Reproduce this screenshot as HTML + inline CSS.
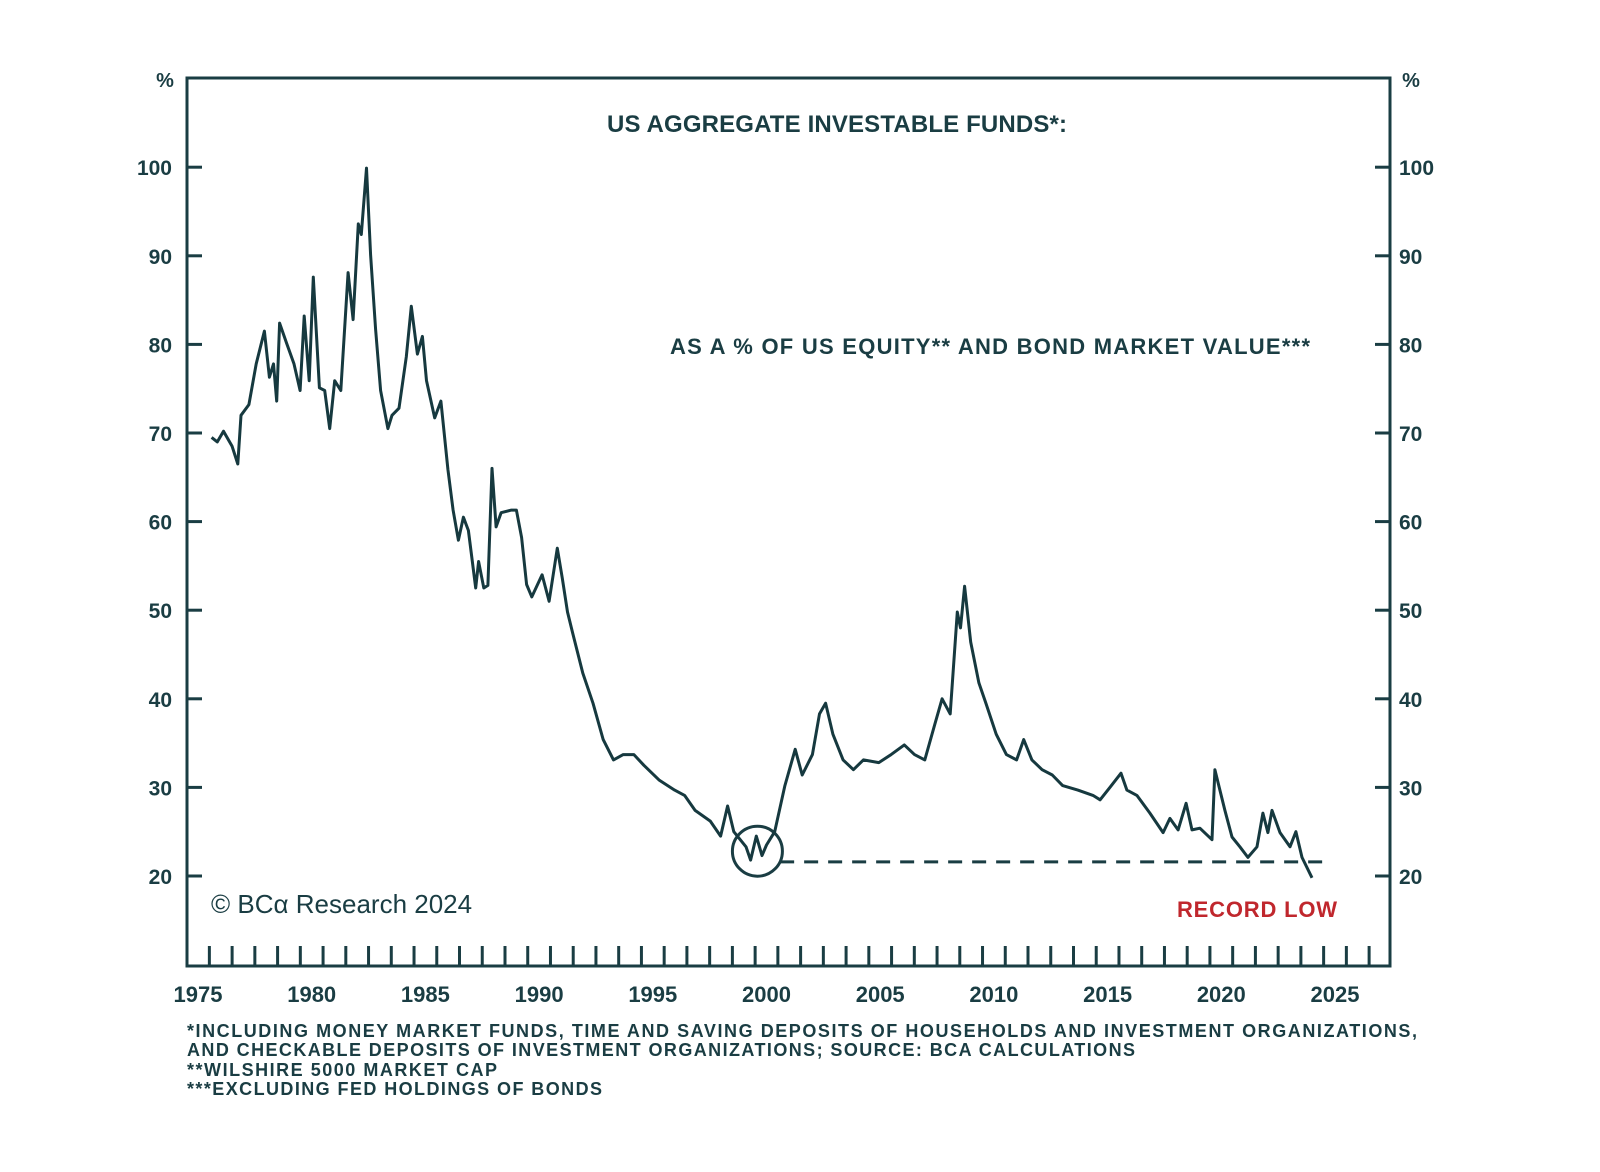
<!DOCTYPE html>
<html><head><meta charset="utf-8"><style>
html,body{margin:0;padding:0;background:#fff;}
svg{display:block;}
text{font-family:"Liberation Sans",sans-serif;fill:#1a3d43;}
</style></head><body>
<svg id="chart" width="1600" height="1172" viewBox="0 0 1600 1172">
<rect x="187" y="78" width="1203" height="888" fill="none" stroke="#1a3d43" stroke-width="3"/>
<g id="yticks"></g>
<g id="xticks"></g>
<text x="165" y="87" font-size="20" font-weight="bold" text-anchor="middle">%</text>
<text x="1411" y="87" font-size="20" font-weight="bold" text-anchor="middle">%</text>
<text x="607" y="132" font-size="24" font-weight="bold" textLength="460">US AGGREGATE INVESTABLE FUNDS*:</text>
<text x="670" y="354" font-size="22" font-weight="bold" textLength="640">AS A % OF US EQUITY** AND BOND MARKET VALUE***</text>
<text x="211" y="913" font-size="26" font-family="Liberation Serif, serif">© BCα Research 2024</text>
<text x="1177" y="917" font-size="22" font-weight="bold" style="fill:#c0272d" textLength="160">RECORD LOW</text>
<line id="recline" stroke="#1a3d43" stroke-width="3" stroke-dasharray="14,10"/>
<circle id="reccircle" r="25" fill="none" stroke="#1a3d43" stroke-width="3"/>
<path id="series" fill="none" stroke="#16393f" stroke-width="3" stroke-linejoin="round"/>
<g font-size="18" font-weight="bold">
<text x="187" y="1037" textLength="1230">*INCLUDING MONEY MARKET FUNDS, TIME AND SAVING DEPOSITS OF HOUSEHOLDS AND INVESTMENT ORGANIZATIONS,</text>
<text x="187" y="1056" textLength="948">AND CHECKABLE DEPOSITS OF INVESTMENT ORGANIZATIONS; SOURCE: BCA CALCULATIONS</text>
<text x="187" y="1076" textLength="310">**WILSHIRE 5000 MARKET CAP</text>
<text x="187" y="1095" textLength="415">***EXCLUDING FED HOLDINGS OF BONDS</text>
</g>
</svg>
<script>
const years=[1975.6,1975.85,1976.12,1976.5,1976.75,1976.89,1977.24,1977.56,1977.92,1978.14,1978.32,1978.46,1978.59,1978.9,1979.22,1979.49,1979.67,1979.89,1980.07,1980.34,1980.57,1980.79,1981.01,1981.28,1981.6,1981.82,1982.05,1982.18,1982.41,1982.59,1982.81,1983.03,1983.35,1983.53,1983.84,1984.16,1984.38,1984.65,1984.87,1985.05,1985.41,1985.68,1985.99,1986.22,1986.45,1986.67,1986.89,1987.21,1987.34,1987.57,1987.75,1987.93,1988.11,1988.33,1988.78,1989.0,1989.23,1989.45,1989.68,1990.13,1990.44,1990.8,1991.02,1991.25,1991.47,1991.92,1992.37,1992.82,1993.27,1993.7,1994.17,1994.61,1995.29,1995.96,1996.4,1996.86,1997.53,1997.98,1998.29,1998.56,1999.1,1999.3,1999.55,1999.8,2000.0,2000.36,2000.81,2001.26,2001.57,2002.02,2002.33,2002.6,2002.92,2003.37,2003.82,2004.26,2004.94,2005.48,2006.06,2006.51,2006.96,2007.41,2007.72,2008.08,2008.39,2008.53,2008.71,2008.98,2009.34,2009.65,2010.1,2010.55,2011.0,2011.31,2011.67,2012.12,2012.57,2013.02,2013.69,2014.36,2014.67,2015.1,2015.59,2015.85,2016.29,2016.86,2017.44,2017.74,2018.1,2018.45,2018.71,2019.06,2019.59,2019.72,2019.94,2020.16,2020.47,2020.82,2021.17,2021.57,2021.83,2022.05,2022.23,2022.58,2023.02,2023.28,2023.55,2023.99];
const values=[69.5,69.0,70.2,68.5,66.5,72,73.2,77.8,81.5,76.3,77.8,73.6,82.4,80.1,77.8,74.8,83.2,75.9,87.6,75.1,74.8,70.5,75.9,74.8,88.1,82.8,93.6,92.4,99.9,90.1,81.7,74.8,70.5,72,72.8,78.6,84.3,78.9,80.9,75.9,71.7,73.6,65.9,61.3,57.9,60.5,59,52.5,55.5,52.5,52.8,66,59.4,61,61.3,61.3,58.2,52.9,51.5,54,51,57,53.6,49.8,47.5,42.9,39.5,35.4,33.1,33.7,33.7,32.5,30.8,29.7,29.1,27.4,26.2,24.5,27.9,25,23.3,21.8,24.5,22.3,23.5,25,30.2,34.3,31.4,33.7,38.3,39.5,36,33.1,32,33.1,32.8,33.7,34.8,33.7,33.1,37.2,40,38.3,49.8,48,52.7,46.4,41.8,39.5,36,33.7,33.1,35.4,33.1,32,31.4,30.2,29.7,29.1,28.6,30.0,31.6,29.7,29.1,27.1,24.9,26.5,25.2,28.2,25.2,25.4,24.1,32.0,29.7,27.4,24.4,23.3,22.1,23.3,27.1,24.9,27.4,24.9,23.3,25.0,22.1,19.8];
const yTickVals=[20,30,40,50,60,70,80,90,100];
const xLabelYears=[1975,1980,1985,1990,1995,2000,2005,2010,2015,2020,2025];
const recordLow=[21.6];
const recordLowSpan=[2000.6,2024.7];
const circleAt=[1999.6,22.8];
const NS='http://www.w3.org/2000/svg';
function X(yr){return 198+(yr-1975)*22.74;}
function Y(v){return 876-(v-20)*8.86;}
const yt=document.getElementById('yticks');
yTickVals.forEach(v=>{
  const y=Y(v);
  const l1=document.createElementNS(NS,'line');
  l1.setAttribute('x1',187);l1.setAttribute('x2',202);l1.setAttribute('y1',y);l1.setAttribute('y2',y);
  l1.setAttribute('stroke','#1a3d43');l1.setAttribute('stroke-width','3');
  
  
  yt.appendChild(l1);
  const l2=document.createElementNS(NS,'line');
  l2.setAttribute('x1',1375);l2.setAttribute('x2',1390);l2.setAttribute('y1',y);l2.setAttribute('y2',y);
  l2.setAttribute('stroke','#1a3d43');l2.setAttribute('stroke-width','3');
  
  
  yt.appendChild(l2);
  const t1=document.createElementNS(NS,'text');
  t1.setAttribute('x',172);t1.setAttribute('y',y+8);t1.setAttribute('text-anchor','end');
  t1.setAttribute('font-size','21');t1.setAttribute('font-weight','bold');t1.textContent=v;
  
  
  yt.appendChild(t1);
  const t2=document.createElementNS(NS,'text');
  t2.setAttribute('x',1399);t2.setAttribute('y',y+8);
  t2.setAttribute('font-size','21');t2.setAttribute('font-weight','bold');t2.textContent=v;
  
  
  yt.appendChild(t2);
});
const xt=document.getElementById('xticks');
for(let yr=1975;yr<=2026;yr++){
  const x=X(yr+0.5);
  const l=document.createElementNS(NS,'line');
  l.setAttribute('x1',x);l.setAttribute('x2',x);l.setAttribute('y1',946);l.setAttribute('y2',966);
  l.setAttribute('stroke','#1a3d43');l.setAttribute('stroke-width','3');
  
  
  xt.appendChild(l);
}
xLabelYears.forEach(yr=>{
  const t=document.createElementNS(NS,'text');
  t.setAttribute('x',X(yr));t.setAttribute('y',1002);t.setAttribute('text-anchor','middle');
  t.setAttribute('font-size','22');t.setAttribute('font-weight','bold');t.textContent=yr;
  
  
  xt.appendChild(t);
});
let d='';
years.forEach((yr,i)=>{d+=(i?'L':'M')+X(yr).toFixed(1)+','+Y(values[i]).toFixed(1);});
document.getElementById('series').setAttribute('d',d);
const rl=document.getElementById('recline');
rl.setAttribute('x1',X(recordLowSpan[0]));rl.setAttribute('x2',X(recordLowSpan[1]));
rl.setAttribute('y1',Y(recordLow[0]));rl.setAttribute('y2',Y(recordLow[0]));
const rc=document.getElementById('reccircle');
rc.setAttribute('cx',X(circleAt[0]));rc.setAttribute('cy',Y(circleAt[1]));
</script>
</body></html>
